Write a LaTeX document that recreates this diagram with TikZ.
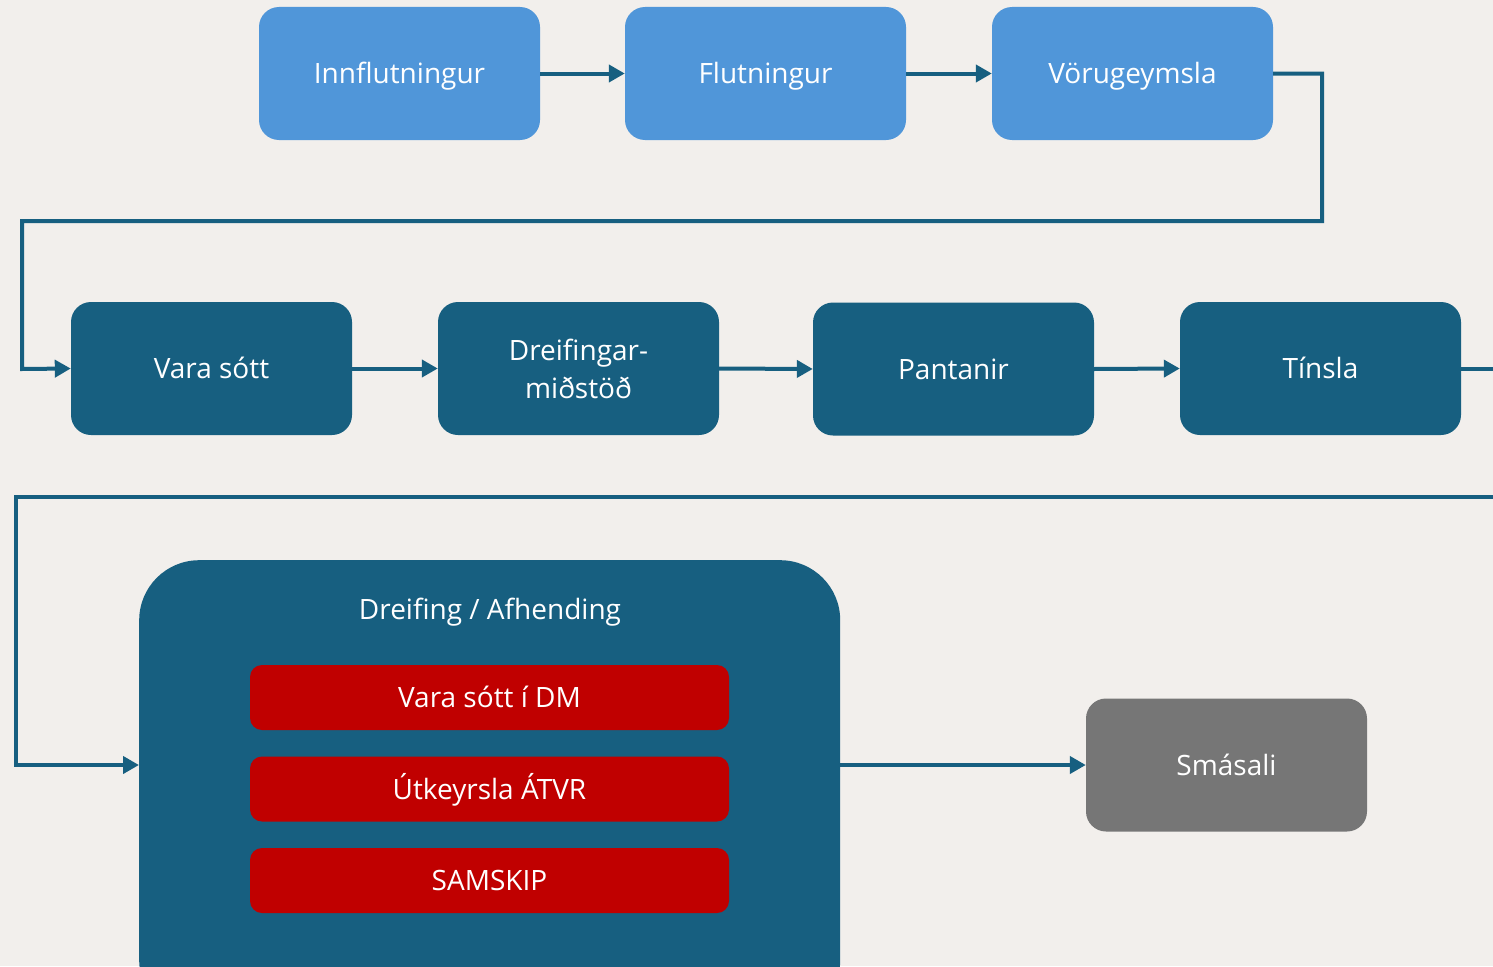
\documentclass[tikz,border=0pt]{standalone}
\usepackage{fontspec}
\setmainfont{Open Sans}
\usetikzlibrary{arrows.meta}
\definecolor{bg}{RGB}{242,239,236}
\definecolor{lightblue}{RGB}{80,150,217}
\definecolor{darkblue}{RGB}{23,95,128}
\definecolor{redbox}{RGB}{192,0,0}
\definecolor{greybox}{RGB}{118,118,118}
\tikzset{
  txt/.style={text=white, font=\fontsize{28}{38}\selectfont, text height=20pt, text depth=0pt},
  box/.style={txt, rounded corners=20pt, minimum width=281pt, minimum height=133pt, inner sep=0pt, align=center},
  topbox/.style={box, fill=lightblue},
  midbox/.style={box, fill=darkblue},
  redb/.style={txt, rounded corners=12pt, fill=redbox, minimum width=479pt, minimum height=65pt, inner sep=0pt},
  conn/.style={draw=darkblue, line width=4pt, -{Triangle[length=16pt,width=17pt]}},
}
\begin{document}
\begin{tikzpicture}[x=1pt,y=-1pt]
\useasboundingbox (0,0) rectangle (1493,966);
\clip (0,0) rectangle (1493,966);
\fill[bg] (0,0) rectangle (1493,966);

% top row
\node[topbox] (inn) at (399.5,73.5) {Innflutningur};
\node[topbox] (flu) at (765.5,73.5) {Flutningur};
\node[topbox] (vor) at (1132.5,73.5) {Vörugeymsla};

% middle row
\node[midbox] (vara) at (211.5,368.5) {Vara sótt};
\node[midbox, text height={}, text depth={}] (dre) at (578.5,368.5) {Dreifingar-\\miðstöð};
\node[midbox] (pan) at (953.5,369) {Pantanir};
\node[midbox] (tin) at (1320.5,368.5) {Tínsla};

% big box
\node[fill=darkblue, rounded corners=60pt, minimum width=701pt, minimum height=460pt, inner sep=0pt,
  anchor=north west] (big) at (139,560) {};
\node[txt] (bigt) at (490,609) {Dreifing / Afhending};
\node[redb] (r1) at (489.5,697.5) {Vara sótt í DM};
\node[redb] (r2) at (489.5,789) {Útkeyrsla ÁTVR};
\node[redb] (r3) at (489.5,880.5) {SAMSKIP};

\node[box, fill=greybox] (sma) at (1226.5,765) {Smásali};

\coordinate (bigin) at (139,765);
\coordinate (bigout) at (840,765);

% connectors
\draw[conn] (inn.east) -- (flu.west);
\draw[conn] (flu.east) -- (vor.west);
\draw[conn] (vor.east) -- (1322,73.5) -- (1322,221) -- (22,221) -- (22,369) -- (vara.west);
\draw[conn] (vara.east) -- (dre.west);
\draw[conn] (dre.east) -- (pan.west);
\draw[conn] (pan.east) -- (tin.west);
\draw[conn] (tin.east) -- (1500,368.5) -- (1500,497) -- (16,497) -- (16,765) -- (bigin);
\draw[conn] (bigout) -- (sma.west);
\end{tikzpicture}
\end{document}
